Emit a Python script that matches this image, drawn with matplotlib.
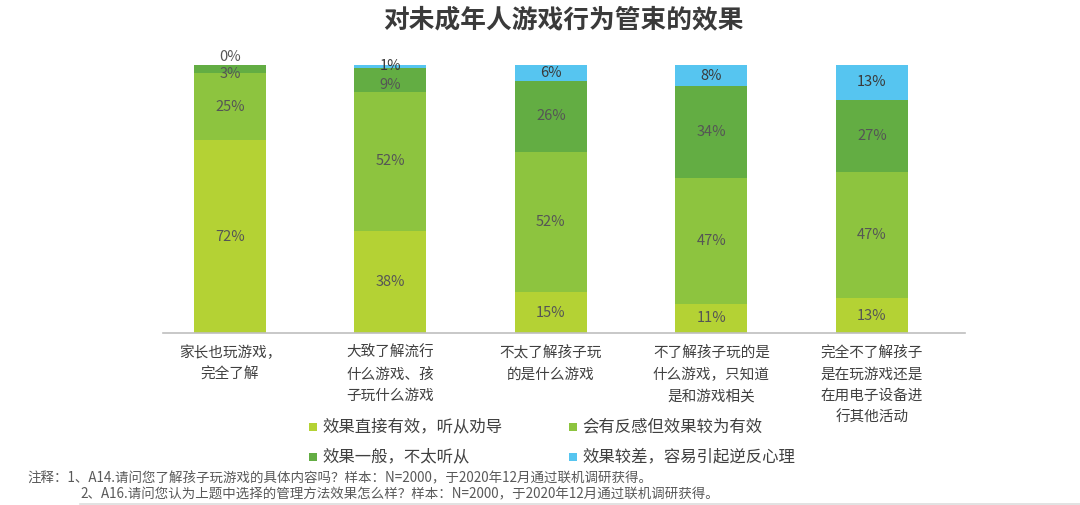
import matplotlib
matplotlib.use("Agg")
import matplotlib.pyplot as plt
from matplotlib.patches import Rectangle
from matplotlib.lines import Line2D
import numpy as np

plt.rcParams['font.family'] = ['Noto Sans CJK SC', 'DejaVu Sans']

title = "对未成年人游戏行为管束的效果"
categories = ["家长也玩游戏，\n完全了解",
              "大致了解流行\n什么游戏、孩\n子玩什么游戏",
              "不太了解孩子玩\n的是什么游戏",
              "不了解孩子玩的是\n什么游戏，只知道\n是和游戏相关",
              "完全不了解孩子\n是在玩游戏还是\n在用电子设备进\n行其他活动"]
series_names = ["效果直接有效，听从劝导", "会有反感但效果较为有效",
                "效果一般，不太听从", "效果较差，容易引起逆反心理"]
s1 = [72, 38, 15, 11, 13]
s2 = [25, 52, 52, 47, 47]
s3 = [3, 9, 26, 34, 27]
s4 = [0, 1, 6, 8, 13]
notes = ["注释：1、A14.请问您了解孩子玩游戏的具体内容吗？样本：N=2000，于2020年12月通过联机调研获得。",
         "2、A16.请问您认为上题中选择的管理方法效果怎么样？样本：N=2000，于2020年12月通过联机调研获得。"]

colors = ["#B4D234", "#8DC43F", "#63AD43", "#56C5F0"]

W, H = 1080, 505
fig = plt.figure(figsize=(W/100, H/100), dpi=100)
ax = fig.add_axes([163/W, 1-333/H, (965-163)/W, (333-65)/H])

data = np.array([s1, s2, s3, s4], dtype=float)
totals = data.sum(axis=0)
norm = data / totals * 100
x = np.arange(len(categories))
bottom = np.zeros(len(categories))
for i in range(4):
    ax.bar(x, norm[i], 0.449, bottom=bottom, color=colors[i], linewidth=0)
    for j in range(len(categories)):
        v = data[i, j]
        lc = "#3a3a3a" if i == 3 else "#555555"
        if v == 0:
            ax.text(x[j], bottom[j] + 0.5, "0%", ha='center', va='bottom',
                    fontsize=10.5, color="#555555")
        else:
            yc = bottom[j] + norm[i, j] / 2
            if i == 2 and v < 10:
                yc -= 2
            ax.text(x[j], yc, f"{int(v)}%", ha='center', va='center',
                    fontsize=10.5, color=lc)
    bottom += norm[i]

ax.set_xlim(-0.417, 4.58)
ax.set_ylim(0, 100)
for s in ['top', 'right', 'left']:
    ax.spines[s].set_visible(False)
ax.spines['bottom'].set_color("#BFBFBF")
ax.spines['bottom'].set_linewidth(1.2)
ax.set_yticks([])
ax.set_xticks(x)
ax.set_xticklabels(categories, fontsize=10.5, color="#404040", linespacing=1.7)
ax.tick_params(axis='x', length=0, pad=9)

fig.text(563/W, 1-20/H, title, ha='center', va='center', fontsize=18.5,
         fontweight='bold', color="#3a3a3a")

# legend
leg_pos = [(313, 427), (573, 427), (313, 457), (573, 457)]
for (lx, ly), name, c in zip(leg_pos, series_names, colors):
    fig.patches.append(Rectangle(((lx-4)/W, 1-(ly+4)/H), 8/W, 8/H,
                                 transform=fig.transFigure, color=c, linewidth=0))
    fig.text((lx+9)/W, 1-ly/H, name, ha='left', va='center', fontsize=11.8,
             color="#404040")

fig.text(27/W, 1-478/H, notes[0], ha='left', va='center', fontsize=9.7, color="#595959")
fig.text(80/W, 1-494/H, notes[1], ha='left', va='center', fontsize=9.7, color="#595959")
fig.add_artist(Line2D([80/W, 1.0], [1-503.5/H, 1-503.5/H], transform=fig.transFigure,
                      color="#DDDDDD", linewidth=1.2))

fig.savefig("out.png", dpi=100)
